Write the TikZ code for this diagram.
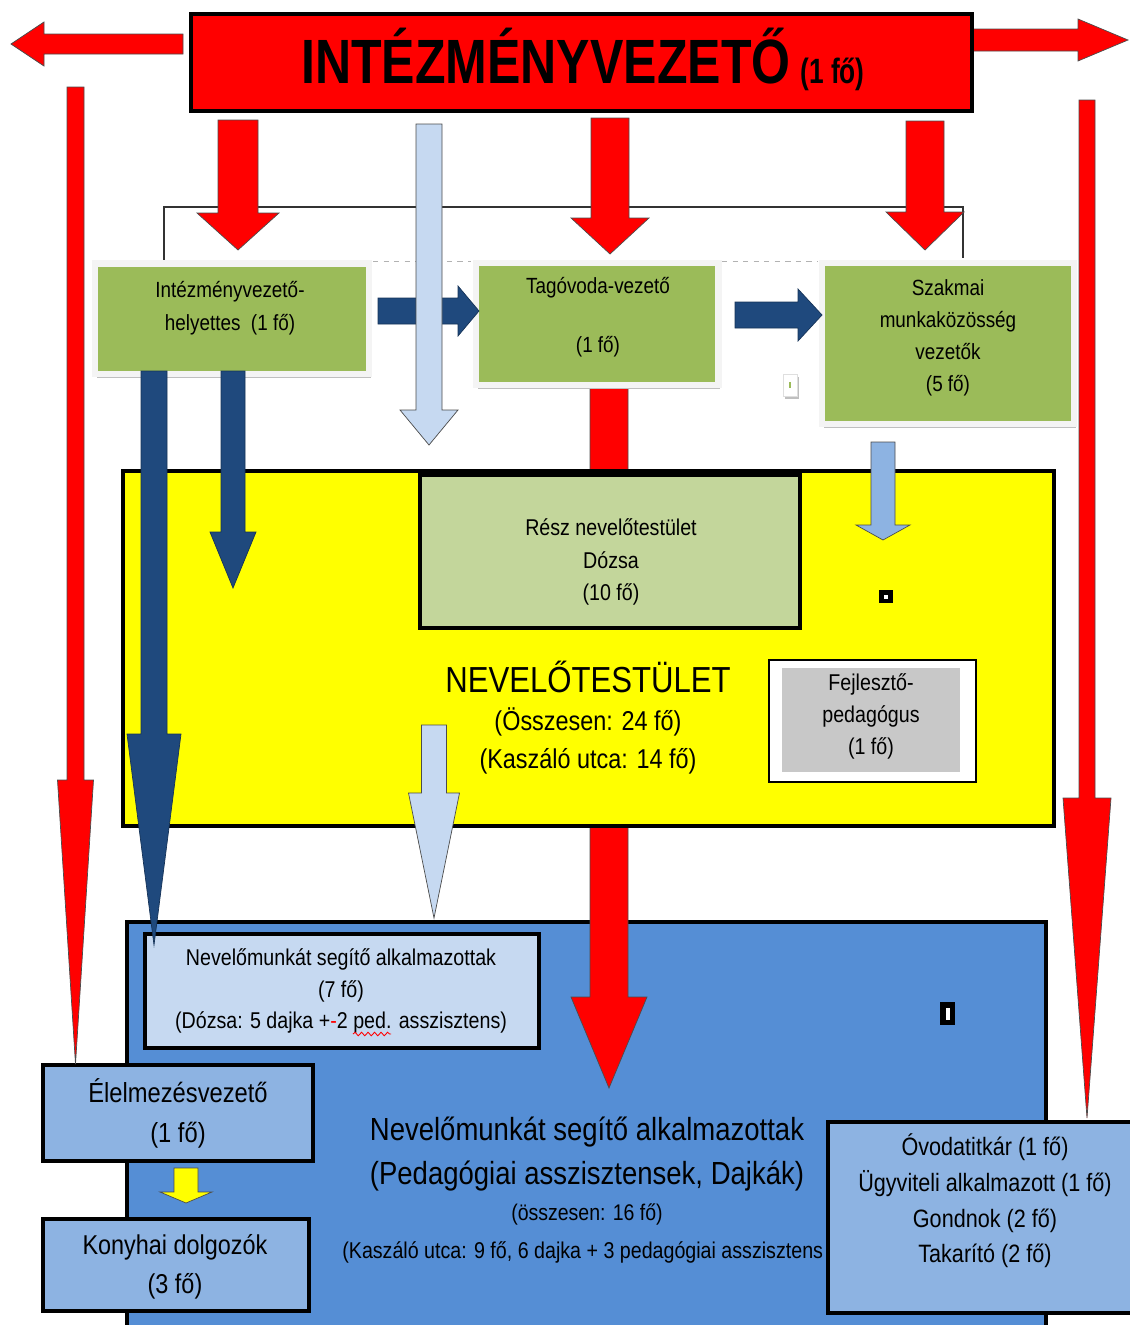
\documentclass[tikz,border=0pt]{standalone}
\usepackage{fontspec}
\usepackage{graphicx}
\setmainfont{Liberation Sans}[FakeStretch=0.86]
\usetikzlibrary{shadows,decorations.pathmorphing}

\definecolor{vred}{RGB}{255,0,0}
\definecolor{dblue}{RGB}{31,73,125}
\definecolor{lblue}{RGB}{198,217,241}
\definecolor{mblue}{RGB}{141,179,226}
\definecolor{bblue}{RGB}{85,142,213}
\definecolor{vgreen}{RGB}{155,187,89}
\definecolor{lgreen}{RGB}{195,214,155}
\definecolor{fgray}{RGB}{200,200,200}
\definecolor{vyellow}{RGB}{255,255,0}

\newcommand{\pxu}{0.2mm}
\newcommand{\fsz}[2]{\fontsize{#1}{#2}\selectfont}
% block arrows: x, top, head base, tip, half shaft, half head, style
\newcommand{\downblock}[7]{%
  \draw[#7] (#1-#5,#2) -- (#1+#5,#2) -- (#1+#5,#3) -- (#1+#6,#3) -- (#1,#4) -- (#1-#6,#3) -- (#1-#5,#3) -- cycle;}
% y, tail, head base, tip, half shaft, half head, style
\newcommand{\sideblock}[7]{%
  \draw[#7] (#2,#1-#5) -- (#3,#1-#5) -- (#3,#1-#6) -- (#4,#1) -- (#3,#1+#6) -- (#3,#1+#5) -- (#2,#1+#5) -- cycle;}

\tikzset{%
  blk/.style = { draw=black!70, line width=0.4pt },
  redarr/.style = { blk, fill=vred },
  darkarr/.style = { draw=dblue!70!black, line width=0.4pt, fill=dblue },
  lightarr/.style = { blk, fill=lblue },
  midarr/.style = { blk, fill=mblue },
  yelarr/.style = { blk, fill=vyellow },
  box/.style = { draw=black, line width=4.5*\pxu, inner sep=0pt },
  greenbox/.style = { draw=gray!9, line width=6.5*\pxu, fill=vgreen, inner sep=0pt,
    drop shadow={shadow xshift=2*\pxu, shadow yshift=-4*\pxu, fill=gray!50, opacity=1} },
  txt/.style = { align=center, inner sep=0pt },
  dotbox/.style = { fill=black, inner sep=0pt }
}

\begin{document}
\begin{tikzpicture}[x=0.2mm, y=-0.2mm]
  \useasboundingbox (0,0) rectangle (1130,1325);

  % thin line above the leaders
  \draw[black!80, line width=0.7pt] (164,262) -- (164,207) -- (963,207) -- (963,258);
  \draw[gray!60, dashed, line width=0.5pt] (373,261) -- (471,261);
  \draw[gray!60, dashed, line width=0.5pt] (722,261) -- (818,261);

  % staff area
  \node[box, fill=bblue, minimum width=919*\pxu, minimum height=418*\pxu] (segito) at (586.5,1131) {};

  % red arrows from the head
  \downblock{238}{120}{213}{250}{20}{41}{redarr}
  \downblock{610}{118}{218}{254}{19}{39}{redarr}
  \downblock{925}{121}{212}{250}{19}{39}{redarr}
  \downblock{609}{385}{997}{1088}{19}{38}{redarr}

  % leaders
  \node[greenbox, minimum width=274*\pxu, minimum height=110.5*\pxu] (helyettes) at (232,318.7) {};
  \node[greenbox, minimum width=242.5*\pxu, minimum height=122*\pxu] (tagovoda) at (597,324) {};
  \node[greenbox, minimum width=252*\pxu, minimum height=161*\pxu] (szakmai) at (948,343.5) {};
  \node[txt, font=\fsz{12.5}{18.5}] (helyettestxt) at (230,308) {Intézményvezető-\\helyettes\ \ (1 fő)};
  \node[txt, font=\fsz{12.5}{18.5}] (tagovodatxt) at (598,317.5) {Tagóvoda-vezető\\[15pt](1 fő)};
  \node[txt, font=\fsz{12.5}{18.3}] (szakmaitxt) at (948,338) {Szakmai\\munkaközösség\\vezetők\\(5 fő)};

  \sideblock{311}{378}{458}{479}{13}{25}{darkarr}
  \sideblock{315}{735}{798}{822}{13}{26}{darkarr}
  \downblock{429}{124}{410}{445}{13}{29}{lightarr}

  \node[draw=gray!25, fill=white, inner sep=0pt, minimum width=14*\pxu, minimum height=22*\pxu,
    drop shadow={shadow xshift=2*\pxu, shadow yshift=-3*\pxu, fill=gray!50, opacity=1}] (jel) at (790,385) {};
  \draw[vgreen, line width=0.6pt] ([yshift=-1.5pt]jel.center) -- ([yshift=1.5pt]jel.center);

  % teaching staff
  \node[box, fill=vyellow, minimum width=931*\pxu, minimum height=355*\pxu] (testulet) at (588.5,648.5) {};
  \node[box, fill=lgreen, minimum width=380*\pxu, minimum height=153*\pxu] (resz) at (610,551.5) {};
  \node[txt, font=\fsz{13}{18.7}] (resztxt) at (611,562) {Rész nevelőtestület\\Dózsa\\(10 fő)};
  \node[txt, font=\fsz{20.6}{24}] (testulettxt) at (588,677) {NEVELŐTESTÜLET};
  \node[txt, font=\fsz{15.5}{21.5}] (osszesen) at (588,741) {(Összesen: 24 fő)\\(Kaszáló utca: 14 fő)};
  \node[draw=black, line width=0.8pt, fill=white, inner sep=0pt, minimum width=207*\pxu, minimum height=122*\pxu] (fejl) at (872.5,721) {};
  \node[fill=fgray, inner sep=0pt, minimum width=178*\pxu, minimum height=104*\pxu] (fejlbelso) at (871,720) {};
  \node[txt, font=\fsz{13}{18}] (fejltxt) at (871,716.5) {Fejlesztő-\\pedagógus\\(1 fő)};
  \node[dotbox, minimum width=14*\pxu, minimum height=13*\pxu] (pont) at (886,596.5) {};
  \node[fill=white, inner sep=0pt, minimum size=4*\pxu] at (pont) {};

  \downblock{883}{442}{525}{540}{12}{27}{midarr}
  \downblock{233}{371}{532}{588}{12}{23}{darkarr}
  \downblock{434}{725}{793}{918}{12.5}{25.5}{lightarr}

  % helpers
  \node[box, fill=lblue, minimum width=394*\pxu, minimum height=114*\pxu] (dozsa) at (342,991) {};
  \node[txt, font=\fsz{13}{18}] (dozsatxt) at (341,991) {Nevelőmunkát segítő alkalmazottak\\(7 fő)\\(Dózsa: 5 dajka +{\color{vred}-}2 ped. asszisztens)};
  \draw[vred, line width=0.5pt, decorate, decoration={snake, amplitude=0.35mm, segment length=1.3mm}] (353,1034) -- (391,1034);
  \downblock{154}{371}{734}{945}{13}{27}{darkarr}

  \node[txt, font=\fsz{18.2}{25.5}] (segitotxt) at (587,1154) {Nevelőmunkát segítő alkalmazottak\\(Pedagógiai asszisztensek, Dajkák)};
  \node[txt, font=\fsz{12.9}{15}] (segitoossz) at (587,1214) {(összesen: 16 fő)};
  \node[txt, font=\fsz{13}{15}, anchor=west] (kaszalo) at (342,1252.5) {(Kaszáló utca: 9 fő, 6 dajka + 3 pedagógiai asszisztens};

  \node[box, fill=mblue, minimum width=270*\pxu, minimum height=96*\pxu] (elelmezes) at (178,1113) {};
  \node[txt, font=\fsz{15.7}{22.7}] (elelmezestxt) at (178,1113) {Élelmezésvezető\\(1 fő)};
  \node[box, fill=mblue, minimum width=266*\pxu, minimum height=92*\pxu] (konyha) at (176,1265) {};
  \node[txt, font=\fsz{15.5}{22}] (konyhatxt) at (175,1266.5) {Konyhai dolgozók\\(3 fő)};
  \downblock{186}{1168}{1192}{1203}{12}{26}{yelarr}

  \node[box, fill=mblue, minimum width=312*\pxu, minimum height=191*\pxu] (titkar) at (984,1217.5) {};
  \node[txt, font=\fsz{14.3}{20.3}] (titkartxt) at (985,1201) {Óvodatitkár (1 fő)\\Ügyviteli alkalmazott (1 fő)\\Gondnok (2 fő)\\Takarító (2 fő)};

  \node[dotbox, minimum width=15*\pxu, minimum height=23*\pxu] (pont2) at (947.5,1013.5) {};
  \node[fill=white, inner sep=0pt, minimum width=4*\pxu, minimum height=12*\pxu] at (pont2) {};

  % side arrows
  \downblock{75.5}{87}{780}{1064}{8.5}{18}{redarr}
  \downblock{1087}{100}{798}{1118}{8}{24}{redarr}
  \sideblock{44}{183}{44}{11}{10}{22}{redarr}
  \sideblock{40}{973}{1078}{1128}{11}{21}{redarr}

  % head of the institution
  \node[box, fill=vred, minimum width=781*\pxu, minimum height=97*\pxu] (vezeto) at (581.5,62.5) {};
  \node[txt, anchor=base] (vezetotxt) at (583,83) {\scalebox{0.93}[1]{\fsz{35.6}{40}\bfseries INTÉZMÉNYVEZETŐ}\hspace{2mm}\scalebox{0.87}[1]{\fsz{20}{22}\bfseries(1 fő)}};
\end{tikzpicture}
\end{document}
